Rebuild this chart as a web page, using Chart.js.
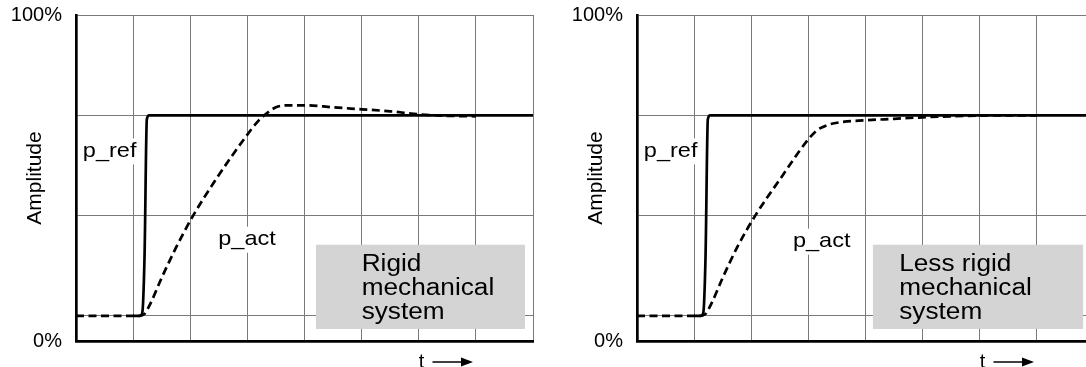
<!DOCTYPE html>
<html>
<head>
<meta charset="utf-8">
<script src="https://cdn.jsdelivr.net/npm/chart.js@4/dist/chart.umd.min.js"></script>
<style>
  html, body { margin: 0; padding: 0; background: #fff; width: 1086px; height: 367px; overflow: hidden; }
  canvas { position: absolute; top: 0; }
  #left { left: 0; }
  #right { left: 561px; }
</style>
</head>
<body>
<canvas id="left" width="545" height="367"></canvas>
<canvas id="right" width="545" height="367"></canvas>
<script>
// y axis is in grid units: 0 = start level, 2 = set point, 3 = top of graph (100%)
const yTicks = [-0.25, 0, 1, 2, 3];
const yTickLabels = ['0%', '', '', '', '100%'];

// rigid system
const refX1 = [1.0, 1.12, 1.16, 1.2, 1.24, 1.28, 8];
const refY1 = [0, 0, 0.03, 0.6, 1.96, 2.0, 2.0];
const actX1 = [0, 1.1, 1.2, 1.3, 1.5, 1.75, 2.05, 2.46, 2.99, 3.2, 3.34, 3.5, 3.75, 4.0, 4.5, 5.0, 5.5, 6.0, 6.5, 7.0];
const actY1 = [0, 0, 0.02, 0.12, 0.38, 0.68, 1.0, 1.37, 1.8, 1.95, 2.02, 2.08, 2.1, 2.1, 2.08, 2.06, 2.04, 2.01, 1.995, 1.99];

// less rigid system
const refX2 = [1.0, 1.12, 1.16, 1.2, 1.24, 1.28, 8];
const refY2 = [0, 0, 0.03, 0.6, 1.96, 2.0, 2.0];
const actX2 = [0, 1.1, 1.2, 1.3, 1.5, 1.75, 2.07, 2.5, 2.97, 3.15, 3.32, 3.55, 4.0, 4.5, 5.0, 5.5, 6.0, 7.0];
const actY2 = [0, 0, 0.02, 0.12, 0.38, 0.68, 1.0, 1.36, 1.74, 1.85, 1.9, 1.93, 1.95, 1.965, 1.98, 1.99, 1.997, 2.0];

const FONT = '"Liberation Sans", Arial, Helvetica, sans-serif';
const GRID = '#7a7a7a';

function pts(xs, ys) {
  return xs.map(function (x, i) { return { x: x, y: ys[i] }; });
}

// text drawn a little wider than the font, like the original artwork
function wideText(ctx, text, x, y, sx) {
  ctx.save();
  ctx.translate(x, y);
  ctx.scale(sx, 1);
  ctx.fillText(text, 0, 0);
  ctx.restore();
}

// labels, grey caption box and the "t ->" marker
const notesPlugin = {
  id: 'notes',
  beforeDatasetsDraw(chart, args, opts) {
    const ctx = chart.ctx, xs = chart.scales.x, ys = chart.scales.y;
    ctx.save();
    ctx.font = '21px ' + FONT;
    ctx.textBaseline = 'middle';
    opts.labels.forEach(function (l) {
      const px = xs.getPixelForValue(l.x), py = ys.getPixelForValue(l.y);
      const w = ctx.measureText(l.text).width * 1.12;
      ctx.fillStyle = '#fff';
      ctx.fillRect(px - 3, py - 13, w + 6, 26);
      ctx.fillStyle = '#000';
      wideText(ctx, l.text, px, py, 1.12);
    });
    const b = opts.box;
    const x0 = xs.getPixelForValue(b.x0), x1 = xs.getPixelForValue(b.x1);
    const y0 = ys.getPixelForValue(b.y0), y1 = ys.getPixelForValue(b.y1);
    ctx.fillStyle = '#d4d4d4';
    ctx.fillRect(x0, y0, x1 - x0, y1 - y0);
    ctx.fillStyle = '#000';
    ctx.font = '23px ' + FONT;
    ctx.textBaseline = 'alphabetic';
    const tx = xs.getPixelForValue(b.textX);
    b.lines.forEach(function (line, i) {
      wideText(ctx, line, tx, y0 + 26 + i * 24, 1.14);
    });
    ctx.restore();
  },
  afterDraw(chart) {
    const ctx = chart.ctx, xs = chart.scales.x;
    const y = chart.chartArea.bottom + 21;
    ctx.save();
    ctx.fillStyle = '#000';
    ctx.strokeStyle = '#000';
    ctx.font = '20px ' + FONT;
    ctx.textBaseline = 'middle';
    ctx.textAlign = 'center';
    ctx.fillText('t', xs.getPixelForValue(6.05), y);
    const a0 = xs.getPixelForValue(6.24), a1 = xs.getPixelForValue(6.95);
    ctx.lineWidth = 1.5;
    ctx.beginPath();
    ctx.moveTo(a0, y);
    ctx.lineTo(a1 - 10, y);
    ctx.stroke();
    ctx.beginPath();
    ctx.moveTo(a1, y);
    ctx.lineTo(a1 - 12, y - 4.5);
    ctx.lineTo(a1 - 12, y + 4.5);
    ctx.closePath();
    ctx.fill();
    ctx.restore();
  }
};

function makeChart(id, refX, refY, actX, actY, notes) {
  return new Chart(document.getElementById(id), {
    type: 'line',
    data: {
      datasets: [
        {
          label: 'p_ref',
          data: pts(refX, refY),
          borderColor: '#000',
          borderWidth: 2.7,
          pointRadius: 0,
          cubicInterpolationMode: 'monotone'
        },
        {
          label: 'p_act',
          data: pts(actX, actY),
          borderColor: '#000',
          borderWidth: 2.7,
          borderDash: [8, 4.5],
          pointRadius: 0,
          cubicInterpolationMode: 'monotone'
        }
      ]
    },
    options: {
      responsive: false,
      animation: false,
      layout: { autoPadding: false, padding: { top: 15, right: 12, left: 0, bottom: 0 } },
      plugins: {
        legend: { display: false },
        tooltip: { enabled: false },
        notes: notes
      },
      scales: {
        x: {
          type: 'linear',
          min: 0,
          max: 8,
          ticks: { display: false, stepSize: 1 },
          grid: { color: GRID, lineWidth: 1, drawTicks: false },
          border: { display: true, color: '#000', width: 2.7 },
          afterFit(s) { s.height = 26; s.paddingLeft = 0; s.paddingRight = 0; }
        },
        y: {
          type: 'linear',
          min: yTicks[0],
          max: yTicks[yTicks.length - 1],
          afterBuildTicks(s) { s.ticks = yTicks.map(function (v) { return { value: v }; }); },
          ticks: {
            padding: 14,
            color: '#000',
            font: { family: FONT, size: 20 },
            callback: function (v) { return yTickLabels[yTicks.indexOf(v)]; }
          },
          grid: {
            color: function (c) { return c.tick && c.tick.value === yTicks[0] ? 'rgba(0,0,0,0)' : GRID; },
            lineWidth: 1,
            drawTicks: false
          },
          border: { display: true, color: '#000', width: 2.7 },
          title: {
            display: true,
            text: 'Amplitude',
            color: '#000',
            font: { family: FONT, size: 21 },
            padding: { top: 23, bottom: 0 }
          },
          afterFit(s) { s.width = 76; s.paddingTop = 0; s.paddingBottom = 0; }
        }
      }
    },
    plugins: [notesPlugin]
  });
}

makeChart('left', refX1, refY1, actX1, actY1, {
  labels: [{ text: 'p_ref', x: 0.12, y: 1.64 }, { text: 'p_act', x: 2.49, y: 0.76 }],
  box: { x0: 4.2, x1: 7.86, y0: 0.71, y1: -0.13, textX: 5.0, lines: ['Rigid', 'mechanical', 'system'] }
});

makeChart('right', refX2, refY2, actX2, actY2, {
  labels: [{ text: 'p_ref', x: 0.12, y: 1.64 }, { text: 'p_act', x: 2.73, y: 0.74 }],
  box: { x0: 4.13, x1: 7.81, y0: 0.71, y1: -0.13, textX: 4.59, lines: ['Less rigid', 'mechanical', 'system'] }
});
</script>
</body>
</html>
